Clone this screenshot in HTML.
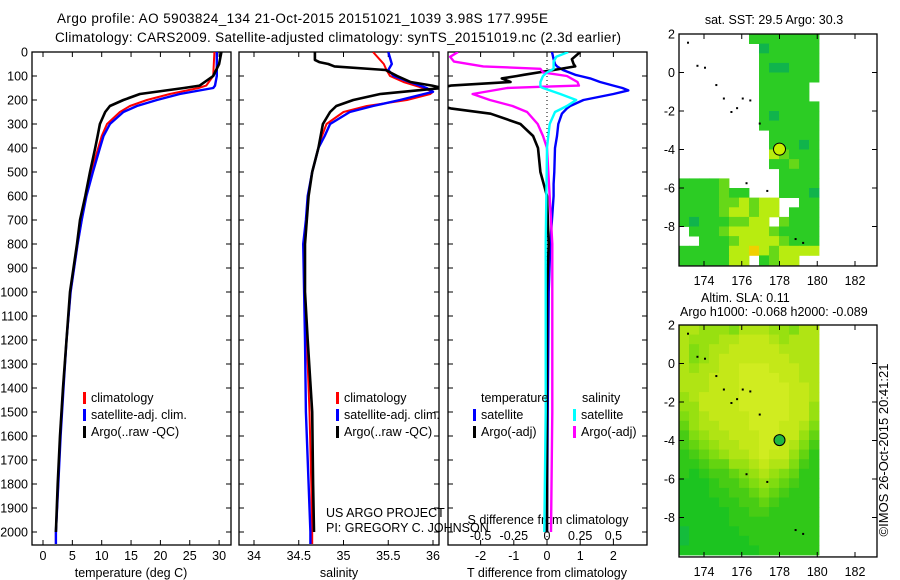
<!DOCTYPE html>
<html><head><meta charset="utf-8">
<style>
html,body{margin:0;padding:0;background:#fff;}
svg{display:block;font-family:"Liberation Sans",sans-serif;}
text{font-size:12.5px;fill:#000;}
</style></head>
<body>
<svg id="fig" width="900" height="580" viewBox="0 0 900 580">
<text x="57" y="23" textLength="491" style="font-size:13.5px">Argo profile: AO 5903824_134 21-Oct-2015 20151021_1039 3.98S 177.995E</text>
<text x="55" y="42" textLength="566" style="font-size:13.5px">Climatology: CARS2009. Satellite-adjusted climatology: synTS_20151019.nc (2.3d earlier)</text>
<text x="888" y="450" transform="rotate(-90 888 450)" text-anchor="middle" style="font-size:13px">©IMOS 26-Oct-2015 20:41:21</text>
<g id="layer"></g>
</svg>
<script>
// ---------- data ----------
const tDepth = [0,50,100,140,150,175,200,225,250,300,350,400,500,600,700,800,1000,1200,1400,1600,1800,2000,2050];
const tClim  = [29.2,29.1,29.0,27.8,26.5,21.6,17.7,14.8,13.1,10.9,10.0,9.4,8.2,7.3,6.6,5.9,4.7,4.0,3.4,2.9,2.6,2.2,2.2];
const tSat   = [29.6,29.6,29.6,29.3,29.0,23.3,19.4,16.0,13.7,11.4,10.3,9.7,8.5,7.4,6.6,5.9,4.7,4.0,3.5,3.0,2.6,2.2,2.2];
const tArgo  = [30.4,30.0,29.0,26.7,24.0,16.5,13.7,11.4,10.6,9.7,9.3,8.9,8.0,7.2,6.3,5.8,4.6,4.0,3.4,2.9,2.5,2.2];
const tArgoDepth = [0,50,100,140,150,175,200,225,250,300,350,400,500,600,700,800,1000,1200,1400,1600,1800,2000];

const sDepth = [0,50,75,100,125,150,166,175,200,225,250,300,350,400,500,600,700,800,1000,1200,1500,1800,2000,2050];
const sClim  = [35.33,35.45,35.48,35.52,35.67,35.89,36.0,35.97,35.71,35.26,35.0,34.81,34.76,34.72,34.65,34.61,34.59,34.57,34.57,34.59,34.62,34.64,34.65,34.65];
const sSat   = [35.5,35.54,35.5,35.56,35.74,35.93,36.0,35.9,35.63,35.33,35.07,34.85,34.79,34.72,34.65,34.6,34.58,34.55,34.56,34.57,34.58,34.61,34.63,34.63];
const sArgoDepth = [0,33,42,50,60,75,100,125,140,150,160,175,200,225,250,300,400,500,600,800,1000,1200,1500,1800,2000];
const sArgo  = [34.68,34.68,34.73,34.83,34.9,35.47,35.6,35.75,35.99,36.1,35.82,35.41,35.11,34.92,34.85,34.77,34.72,34.65,34.61,34.57,34.57,34.6,34.65,34.66,34.67];

const dDepth = [0,30,50,60,75,95,100,110,125,140,150,160,175,200,225,235,257,300,350,400,500,550,600,800,1000,1500,2000];
const dTsat  = [0.15,0.2,0.24,0.3,0.48,0.85,1.0,1.3,1.6,2.0,2.27,2.45,2.0,1.1,0.7,0.6,0.45,0.34,0.3,0.24,0.22,0.2,0.2,0.1,0.05,0.02,0.0];
const dTargo = [1.0,0.75,0.8,0.85,0.2,-0.7,-0.9,-1.36,-1.1,-2.9,-3.2,-3.2,-3.2,-3.2,-3.2,-2.9,-1.7,-0.8,-0.42,-0.27,-0.2,-0.1,0.0,0.05,0.0,0.0,0.0];
const dSDepth = [0,20,40,60,70,85,100,125,140,145,150,175,200,225,250,300,350,400,800,1500,2000];
const dSargo = [-0.67,-0.73,-0.7,-0.48,-0.05,-0.03,0.15,0.23,0.24,-0.05,-0.3,-0.56,-0.43,-0.26,-0.15,-0.07,-0.03,0.0,0.04,0.04,0.03];
const dSsat  = [0.16,0.07,0.05,0.05,0.05,0.0,-0.03,-0.05,-0.05,-0.05,-0.03,0.1,0.22,0.15,0.06,0.02,0.01,0.0,-0.01,-0.01,-0.02];

const depthTicks = [0,100,200,300,400,500,600,700,800,900,1000,1100,1200,1300,1400,1500,1600,1700,1800,1900,2000];
const tTicks = [0,5,10,15,20,25,30];
const sTicks = [34,34.5,35,35.5,36];
const sTickLabels = ['34','34.5','35','35.5','36'];
const dTTicks = [-2,-1,0,1,2];
const dSTicks = [-0.5,-0.25,0,0.25,0.5];
const dSTickLabels = ['-0.5','-0.25','0','0.25','0.5'];
const lonTicks = [174,176,178,180,182];
const latTicks = [2,0,-2,-4,-6,-8];

// SST grid (rows lat 2 -> -10, 0.5 deg; cols 14 from 173 to 180). '.' = missing
const sstRows = [
".......ggggggg","........dggggg","........gggggg","........gddggg","........gggggg",
"........ggggg.","........ggggg.","........gggggg","........gdgggg","........gggggg",
".........ggggg",".........gggdg",".........ylggg",".........gglgg","..........gggg",
"ggggl.....gggg","gggglgg...gggd","ggggllylyy..gg","gggglyylyy.ggg","gdgggllyy.lggg",
".ggglyyyylgggg","..ggglyyyylggg","gggggyyoylyyyy","gggggyy.glyy.."];
// SLA grid levels 0..9
const slaRows = [
"77666577766577","76667788876777","75677888887777","75678888888777","76778899988877",
"77788899998877","77788899999887","67888899999887","66888899999886","56788889999886",
"46778889998875","35677888998864","34567788998753","23456778988642","22344667877532",
"21233456765422","11123345654322","11122334543222","11112233432222","11111223322222",
"11111222222222","01111122222222","01111112222222","11111111222222"];
const islandLon = [173.1,173.6,174.0,174.6,175.0,175.7,176.0,176.4,176.9,177.3,178.8,179.2,176.2,175.4];
const islandLat = [1.6,0.4,0.3,-0.6,-1.3,-1.8,-1.3,-1.4,-2.6,-6.1,-8.6,-8.8,-5.7,-2.0];
const argoLon = 178.0, argoLat = -3.98;

// ---------- helpers ----------
const NS='http://www.w3.org/2000/svg';
const L=document.getElementById('layer');
function mk(tag,attrs,parent){const e=document.createElementNS(NS,tag);for(const k in attrs)e.setAttribute(k,attrs[k]);(parent||L).appendChild(e);return e;}
const Y0=52, PY=0.24, BOT=545, TOP=52;
const yD = d => Y0 + d*PY;

const panels = [
 {x0:32,x1:231,name:'temperature-panel'},
 {x0:239,x1:439,name:'salinity-panel'},
 {x0:448,x1:647,name:'difference-panel'}];
const xT = t => 43 + t*5.87;
const xS = s => 254 + (s-34)*89.5;
const xDT = v => 547 + v*33.2;
const xDS = v => 547 + v*132.8;

// clip paths
const defs=mk('defs',{});
panels.forEach((p,i)=>{const c=mk('clipPath',{id:'clip'+i},defs);mk('rect',{x:p.x0,y:TOP,width:p.x1-p.x0,height:BOT-TOP},c);});

function line(xs,ds,xf,color,w,name,clip){
  const pts=xs.map((v,i)=>xf(v).toFixed(1)+','+yD(ds[i]).toFixed(1)).join(' ');
  const e=mk('polyline',{points:pts,fill:'none',stroke:color,'stroke-width':w,'stroke-linejoin':'round','clip-path':'url(#clip'+clip+')'});
  
  
}
function txt(x,y,s,anchor,name,size){
  const e=mk('text',{x:x,y:y,'text-anchor':anchor||'start'});
  if(size)e.style.fontSize=size+'px';
  e.textContent=s;
  
  
  return e;
}

// frames + ticks
panels.forEach((p,i)=>{
  const r=mk('rect',{x:p.x0,y:TOP,width:p.x1-p.x0,height:BOT-TOP,fill:'none',stroke:'#000','stroke-width':1.3});
  
  
  depthTicks.forEach(d=>{
    mk('line',{x1:p.x0,x2:p.x0+5,y1:yD(d),y2:yD(d),stroke:'#000'});
    mk('line',{x1:p.x1,x2:p.x1-5,y1:yD(d),y2:yD(d),stroke:'#000'});
  });
});
depthTicks.forEach(d=>txt(28,yD(d)+4.5,String(d),'end','depth-tick-label'));

function xticks(vals,labels,xf,p,ly){
  vals.forEach((v,i)=>{
    const x=xf(v);
    mk('line',{x1:x,x2:x,y1:BOT,y2:BOT-5,stroke:'#000'});
    mk('line',{x1:x,x2:x,y1:TOP,y2:TOP+5,stroke:'#000'});
    txt(x,ly,labels[i],'middle','x-tick-label');
  });
}
xticks(tTicks,tTicks.map(String),xT,panels[0],560);
xticks(sTicks,sTickLabels,xS,panels[1],560);
xticks(dTTicks,dTTicks.map(String),xDT,panels[2],560);
dSTicks.forEach((v,i)=>txt(xDS(v),540,dSTickLabels[i],'middle','s-diff-tick-label'));

txt(131,577,'temperature (deg C)','middle','x-axis-title-temperature');
txt(339,577,'salinity','middle','x-axis-title-salinity');
txt(547,577,'T difference from climatology','middle','x-axis-title-t-difference');
txt(548,524,'S difference from climatology','middle','x-axis-title-s-difference');

// zero dotted line
const zl=mk('line',{x1:547,x2:547,y1:TOP,y2:BOT,stroke:'#000','stroke-dasharray':'1,3'});



// series
line(tClim,tDepth,xT,'#ff0000',2,'temperature-climatology-line',0);
line(tSat,tDepth,xT,'#0000ff',2.4,'temperature-satellite-line',0);
line(tArgo,tArgoDepth,xT,'#000',2.6,'temperature-argo-line',0);
line(sClim,sDepth,xS,'#ff0000',2,'salinity-climatology-line',1);
line(sSat,sDepth,xS,'#0000ff',2.4,'salinity-satellite-line',1);
line(sArgo,sArgoDepth,xS,'#000',2.6,'salinity-argo-line',1);
line(dTsat,dDepth,xDT,'#0000ff',2.4,'t-diff-satellite-line',2);
line(dTargo,dDepth,xDT,'#000',2.6,'t-diff-argo-line',2);
line(dSargo,dSDepth,xDS,'#ff00ff',2.4,'s-diff-argo-line',2);
line(dSsat,dSDepth,xDS,'#00ffff',2.4,'s-diff-satellite-line',2);

// legends
function legItem(bx,y,color,label,name){
  const b=mk('rect',{x:bx,y:y-10,width:3,height:12,fill:color});
  
  
  txt(bx+8,y,label,'start',name);
}
[[83,'climatology-1'],[336,'climatology-2']].forEach(([bx,n])=>{
  legItem(bx,402,'#ff0000','climatology','legend-'+n);
  legItem(bx,419,'#0000ff','satellite-adj. clim.','legend-sat-'+n);
  legItem(bx,436,'#000','Argo(..raw -QC)','legend-argo-'+n);
});
txt(481,402,'temperature','start','legend-temperature-heading');
legItem(473,419,'#0000ff','satellite','legend-t-satellite');
legItem(473,436,'#000','Argo(-adj)','legend-t-argo');
txt(582,402,'salinity','start','legend-salinity-heading');
legItem(573,419,'#00ffff','satellite','legend-s-satellite');
legItem(573,436,'#ff00ff','Argo(-adj)','legend-s-argo');
txt(326,517,'US ARGO PROJECT','start','project-label');
txt(326,532,'PI: GREGORY C. JOHNSON','start','pi-label');

// ---------- maps ----------
const MX0=679, MX1=877;
const xLon = lon => 704 + (lon-174)*18.875;
function mapFrame(top,bottom,name){
  const latY = lat => top + (2-lat)*(bottom===267?19.25:19.25);
  return latY;
}
const sstPal={g:'#2ccc24',d:'#10b44c',l:'#66d818',y:'#b8ec10',o:'#f0d000'};
const slaPal=['#14bc3c','#1cc420','#30c818','#48cc14','#64d410','#80dc10','#98e010','#b0e414','#c4e818','#d0ec20'];

function drawMap(top,rows,pal,dataBottom,name,marker){
  const latY = lat => top + (2-lat)*19.25;
  const cw=(819-679)/14, ch=(dataBottom-top)/24;
  const g=mk('g',{});
  
  
  rows.forEach((r,j)=>{
    for(let i=0;i<r.length;i++){
      const c=pal[r[i]];
      if(!c)continue;
      mk('rect',{x:(679+i*cw).toFixed(1),y:(top+j*ch).toFixed(1),width:(cw+0.4).toFixed(1),height:(ch+0.4).toFixed(1),fill:c},g);
    }
  });
  islandLon.forEach((lo,k)=>{
    const isl=mk('rect',{x:xLon(lo),y:latY(islandLat[k]),width:2,height:2,fill:'#000'});
    
    
  });
  const bottom=latY(-10.05);
  const fr=mk('rect',{x:MX0,y:top,width:MX1-MX0,height:bottom-top,fill:'none',stroke:'#000','stroke-width':1.3});
  
  
  lonTicks.forEach(lo=>{
    const x=xLon(lo);
    mk('line',{x1:x,x2:x,y1:top,y2:top+5,stroke:'#000'});
    mk('line',{x1:x,x2:x,y1:bottom,y2:bottom-5,stroke:'#000'});
    txt(x,bottom+19,String(lo),'middle','longitude-tick-label');
  });
  latTicks.forEach(la=>{
    const y=latY(la);
    mk('line',{x1:MX0,x2:MX0+5,y1:y,y2:y,stroke:'#000'});
    mk('line',{x1:MX1,x2:MX1-5,y1:y,y2:y,stroke:'#000'});
    txt(675,y+4.5,String(la),'end','latitude-tick-label');
  });
  const m=mk('circle',{cx:xLon(argoLon),cy:latY(argoLat),r:marker.r,fill:marker.fill,stroke:'#000','stroke-width':1});
  
  
}
drawMap(34,sstRows,sstPal,265,'sst-map',{r:6,fill:'#c8f000'});
drawMap(325,slaRows,slaPal,555,'sla-map',{r:5.5,fill:'#20b840'});
txt(774,24,'sat. SST: 29.5 Argo: 30.3','middle','sst-map-title');
txt(701,302,'Altim. SLA: 0.11','start','sla-map-title');
txt(680,316,'Argo h1000: -0.068 h2000: -0.089','start','sla-map-subtitle');
</script>
</body></html>
